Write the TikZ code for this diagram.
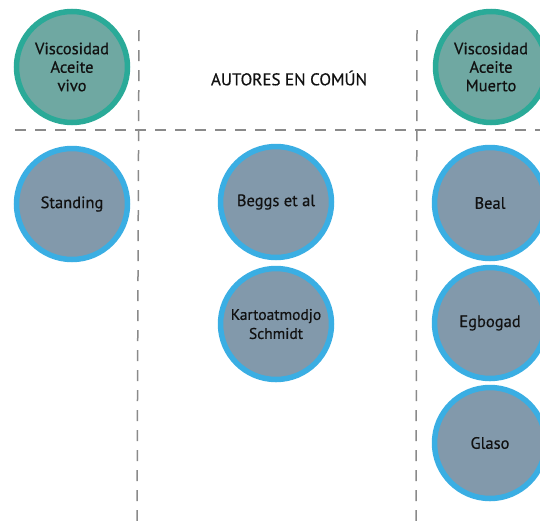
\documentclass[tikz,border=0pt]{standalone}
\usepackage{fontspec}
\setmainfont{PT Sans}
\newfontfamily\medfont{PT Sans}[FakeBold=0.5]
\definecolor{tealline}{HTML}{2AAA98}
\definecolor{tealfill}{HTML}{6FA8A2}
\definecolor{blueline}{HTML}{3AAEE3}
\definecolor{bluefill}{HTML}{8299AB}
\definecolor{dashgray}{HTML}{8A8A8A}
\definecolor{txt}{HTML}{111111}
\begin{document}
\begin{tikzpicture}[x=1pt,y=-1pt,
  divider/.style={draw=dashgray,line width=1.5pt,dash pattern=on 11pt off 9pt},
  headcircle/.style={circle,draw=tealline,fill=tealfill,line width=5.5pt,minimum size=111pt,inner sep=0pt,align=center,font=\medfont\fontsize{16.5}{18.5}\selectfont,text=txt},
  authcircle/.style={circle,draw=blueline,fill=bluefill,line width=5.5pt,minimum size=111pt,inner sep=0pt,align=center,font=\medfont\fontsize{16.5}{19}\selectfont,text=txt},
  title/.style={font=\medfont\fontsize{17}{19}\selectfont,text=txt}]
\useasboundingbox (0,0) rectangle (540,520);
\coordinate (hL) at (15,130);
\coordinate (hR) at (545,130);
\coordinate (v1T) at (139,30);
\coordinate (v1B) at (137,522);
\coordinate (v2T) at (417,30);
\coordinate (v2B) at (416,522);
\draw[divider] (hL) -- (hR);
\draw[divider] (v1T) -- (v1B);
\draw[divider] (v2T) -- (v2B);
\node[headcircle] (vivo) at (72,67) {Viscosidad\\Aceite\\vivo};
\node[headcircle] (muerto) at (491,67) {Viscosidad\\Aceite\\Muerto};
\node[title] (autores) at (289,78) {AUTORES EN COMÚN};
\node[authcircle] (standing) at (72,204) {Standing};
\node[authcircle] (beggs) at (276,202) {Beggs et al};
\node[authcircle,font=\medfont\fontsize{15.5}{19}\selectfont] (karto) at (276,324) {Kartoatmodjo\\Schmidt};
\node[authcircle] (beal) at (490,203) {Beal};
\node[authcircle] (egbogad) at (490,323) {Egbogad};
\node[authcircle] (glaso) at (490,443) {Glaso};
\end{tikzpicture}
\end{document}
